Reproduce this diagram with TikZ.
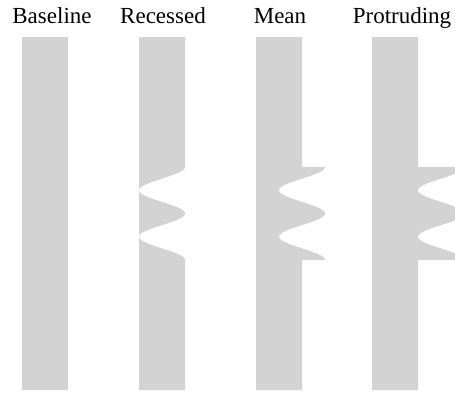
\documentclass[tikz,border=0pt]{standalone}
\usepackage{fontspec}
\setmainfont{Liberation Serif}
\usepackage{xcolor}
\usepackage{tikz}
\definecolor{barfill}{RGB}{211,211,211}

\begin{document}
\begin{tikzpicture}[
x=1pt,y=-1pt,
bar/.style={fill=barfill},
title/.style={anchor=base,inner sep=0pt,font=\fontsize{23}{27}\selectfont}
]
\useasboundingbox (0,0) rectangle (455,394);
\clip (0,0) rectangle (455,394);

\node[title] (baseline) at (52,23) {Baseline};
\node[title] (recessed) at (163,23) {Recessed};
\node[title] (mean) at (280,23) {Mean};
\node[title] (protruding) at (402,23) {Protruding};

% plain bar
\fill[bar] (22,37) rectangle (68,390);

% wave cut into the bar
\fill[bar] (139,37) -- (185,37) -- (185,167)
  -- plot[variable=\t,domain=0:2,samples=101] ({162+23*cos(360*\t)},{167+46.5*\t})
  -- (185,390) -- (139,390) -- cycle;

% wave centred on the bar edge
\fill[bar] (256,37) -- (302,37) -- (302,167) -- (325,167)
  -- plot[variable=\t,domain=0:2,samples=101] ({302+23*cos(360*\t)},{167+46.5*\t})
  -- (325,260) -- (302,260) -- (302,390) -- (256,390) -- cycle;

% wave standing out of the bar
\fill[bar] (372,37) -- (418,37) -- (418,167) -- (464,167)
  -- plot[variable=\t,domain=0:2,samples=101] ({441+23*cos(360*\t)},{167+46.5*\t})
  -- (464,260) -- (418,260) -- (418,390) -- (372,390) -- cycle;
\end{tikzpicture}
\end{document}
